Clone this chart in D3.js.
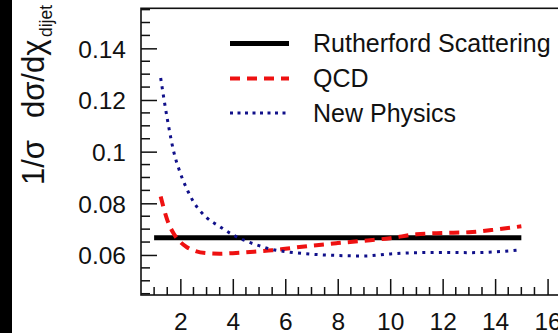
<!DOCTYPE html>
<html>
<head>
<meta charset="utf-8">
<script src="https://cdn.jsdelivr.net/npm/d3@7"></script>
<style>
  html, body { margin: 0; padding: 0; background: #fff; }
  svg { display: block; }
  text { font-family: "Liberation Sans", Arial, sans-serif; fill: #111; }
</style>
</head>
<body>
<svg id="chart" width="558" height="333"></svg>
<script>
// Normalised dijet angular distributions
const chi = [1.25, 1.5, 1.75, 2, 2.25, 2.5, 3, 3.5, 4, 4.5, 5, 5.5, 6, 7, 8, 9, 10, 11, 12, 13, 14, 15];
const qcd = [0.0826, 0.0736, 0.0682, 0.0650, 0.0630, 0.0618, 0.0607, 0.0605, 0.0607, 0.0610, 0.0614, 0.0618,
             0.0624, 0.0636, 0.0646, 0.0655, 0.0665, 0.0680, 0.0685, 0.0688, 0.0698, 0.0711];
const newPhysics = [0.1285, 0.1128, 0.0999, 0.0917, 0.0855, 0.0806, 0.0745, 0.0710, 0.0678, 0.0654, 0.0636, 0.0621,
                    0.0613, 0.0603, 0.0598, 0.0596, 0.0604, 0.0609, 0.0610, 0.0609, 0.0612, 0.0620];
const rutherfordChi = [1, 15];
const rutherford = [1 / 15, 1 / 15];

const xTicks = [2, 4, 6, 8, 10, 12, 14, 16];
const yTicks = [0.06, 0.08, 0.1, 0.12, 0.14];
const yTickLabels = ["0.06", "0.08", "0.1", "0.12", "0.14"];
const seriesNames = ["Rutherford Scattering", "QCD", "New Physics"];

const svg = d3.select("#chart");
const W = 558, H = 333;
const frame = { left: 141, top: 8.3, right: 562, bottom: 295 };

const x = d3.scaleLinear().domain([0.5, 16.55]).range([frame.left, frame.right]);
const y = d3.scaleLinear().domain([0.0445, 0.1555]).range([frame.bottom, frame.top]);

// dark strip along the left edge
svg.append("rect").attr("x", 0).attr("y", 0).attr("width", 12).attr("height", H).attr("fill", "#000");

// frame
svg.append("rect")
  .attr("x", frame.left).attr("y", frame.top)
  .attr("width", frame.right - frame.left).attr("height", frame.bottom - frame.top)
  .attr("fill", "none").attr("stroke", "#111").attr("stroke-width", 1.6);

// axes: ticks drawn inward, labels placed outside
const fs = 24.5;
const xAxis = d3.axisBottom(x).tickValues(xTicks).tickSize(-16).tickPadding(0).tickFormat(d3.format("d"));
const gx = svg.append("g").attr("transform", `translate(0,${frame.bottom})`).call(xAxis);
gx.select(".domain").remove();
gx.selectAll(".tick line").attr("stroke", "#111").attr("stroke-width", 1.5);
gx.selectAll(".tick text").attr("font-size", fs).attr("y", 34.5).attr("dy", 0).attr("fill", "#111");

const xMinor = d3.range(1, 16.01, 0.5).filter(v => v % 2 !== 0);
svg.append("g").selectAll("line").data(xMinor).join("line")
  .attr("x1", d => x(d)).attr("x2", d => x(d))
  .attr("y1", frame.bottom).attr("y2", frame.bottom - 8)
  .attr("stroke", "#111").attr("stroke-width", 1.5);

const yAxis = d3.axisLeft(y).tickValues(yTicks).tickSize(-16).tickPadding(0)
  .tickFormat((d, i) => yTickLabels[i]);
const gy = svg.append("g").attr("transform", `translate(${frame.left},0)`).call(yAxis);
gy.select(".domain").remove();
gy.selectAll(".tick line").attr("stroke", "#111").attr("stroke-width", 1.5);
gy.selectAll(".tick text").attr("font-size", fs).attr("x", -15).attr("dy", "0.36em").attr("fill", "#111");

const yMinor = d3.range(0.045, 0.1551, 0.005).filter(v => Math.abs((v * 1000) % 20) > 1e-6 && Math.abs((v * 1000) % 20 - 20) > 1e-6);
svg.append("g").selectAll("line").data(yMinor).join("line")
  .attr("x1", frame.left).attr("x2", frame.left + 9)
  .attr("y1", d => y(d)).attr("y2", d => y(d))
  .attr("stroke", "#111").attr("stroke-width", 1.5);

// y-axis title, written bottom-to-top
const yTitle = svg.append("text")
  .attr("transform", `translate(44,185) rotate(-90)`)
  .attr("font-size", 31);
yTitle.append("tspan").attr("x", 0).text("1/\u03c3");
yTitle.append("tspan").attr("x", 67).text("d\u03c3/d\u03c7");
yTitle.append("tspan").attr("x", 148).attr("dy", 8).attr("font-size", 17.5).text("dijet");

// curves
const line = d3.line().x(d => x(d[0])).y(d => y(d[1])).curve(d3.curveMonotoneX);
const styles = [
  { color: "#000", width: 5, dash: null },
  { color: "#ee1111", width: 4, dash: "10,7" },
  { color: "#10108a", width: 3, dash: "3,5.3" }
];
const series = [
  d3.zip(rutherfordChi, rutherford),
  d3.zip(chi, qcd),
  d3.zip(chi, newPhysics)
];

const plot = svg.append("g");
series.forEach((s, i) => {
  plot.append("path").attr("d", line(s))
    .attr("fill", "none")
    .attr("stroke", styles[i].color)
    .attr("stroke-width", styles[i].width)
    .attr("stroke-dasharray", styles[i].dash);
});

// legend
const legend = svg.append("g");
const legendY = [52, 87, 121.5];
seriesNames.forEach((name, i) => {
  const st = styles[i];
  legend.append("line")
    .attr("x1", 230).attr("x2", 289)
    .attr("y1", legendY[i] - 8.5).attr("y2", legendY[i] - 8.5)
    .attr("stroke", st.color).attr("stroke-width", st.width)
    .attr("stroke-dasharray", i === 2 ? "3,4.5" : st.dash);
  legend.append("text").attr("x", 313).attr("y", legendY[i]).attr("font-size", 25).text(name);
});
</script>
</body>
</html>
